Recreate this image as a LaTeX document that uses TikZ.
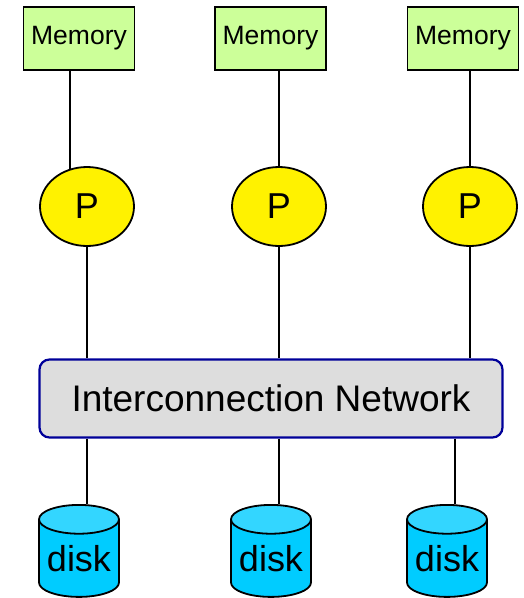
\documentclass[tikz,border=0pt]{standalone}
\usepackage{fontspec}
\setmainfont{Liberation Sans}
\usetikzlibrary{shapes.geometric}
\definecolor{memgreen}{HTML}{CCFF99}
\definecolor{netgray}{HTML}{DDDDDD}
\definecolor{netblue}{HTML}{000099}
\definecolor{diskbody}{HTML}{00CCFF}
\definecolor{disktop}{HTML}{33D6FF}
\begin{document}
\begin{tikzpicture}[x=1pt,y=-1pt,line width=1.8pt,
	memory/.style={draw,fill=memgreen,minimum width=111pt,minimum height=63pt,inner sep=0pt,font=\fontsize{26.5}{30}\selectfont},
	proc/.style={draw,ellipse,fill=yellow,minimum width=94pt,minimum height=79pt,inner sep=0pt,font=\fontsize{36}{40}\selectfont},
	network/.style={draw=netblue,line width=2.2pt,fill=netgray,rounded corners=10pt,minimum width=463pt,minimum height=78pt,font=\fontsize{37}{40}\selectfont},
	disk/.style={draw,cylinder,shape border rotate=90,aspect=0.45,anchor=north,cylinder uses custom fill,cylinder body fill=diskbody,cylinder end fill=disktop,minimum width=80pt,minimum height=92pt,inner sep=0pt,font=\fontsize{36}{40}\selectfont}]
	\useasboundingbox (0,0) rectangle (524,598);
	% memories
	\node[memory] (m1) at (79,38.5) {Memory};
	\node[memory] (m2) at (270.5,38.5) {Memory};
	\node[memory] (m3) at (463,38.5) {Memory};
	% processors
	\node[proc] (p1) at (87,206.5) {P};
	\node[proc] (p2) at (279,206.5) {P};
	\node[proc] (p3) at (470,206.5) {P};
	% network and disks
	\node[network] (net) at (271,398.5) {Interconnection Network};
	\node[disk] (d1) at (79,504) {disk};
	\node[disk] (d2) at (271,504) {disk};
	\node[disk] (d3) at (447,504) {disk};
	% wires
	\draw (p1.114 |- m1.south) -- (p1.114);
	\draw (p2.north |- m2.south) -- (p2.north);
	\draw (p3.north |- m3.south) -- (p3.north);
	\draw (p1.south) -- (p1.south |- net.north);
	\draw (p2.south) -- (p2.south |- net.north);
	\draw (p3.south) -- (p3.south |- net.north);
	\draw ([xshift=8pt]d1.north |- net.south) -- ([xshift=8pt]d1.north);
	\draw ([xshift=8pt]d2.north |- net.south) -- ([xshift=8pt]d2.north);
	\draw ([xshift=8pt]d3.north |- net.south) -- ([xshift=8pt]d3.north);
\end{tikzpicture}
\end{document}
